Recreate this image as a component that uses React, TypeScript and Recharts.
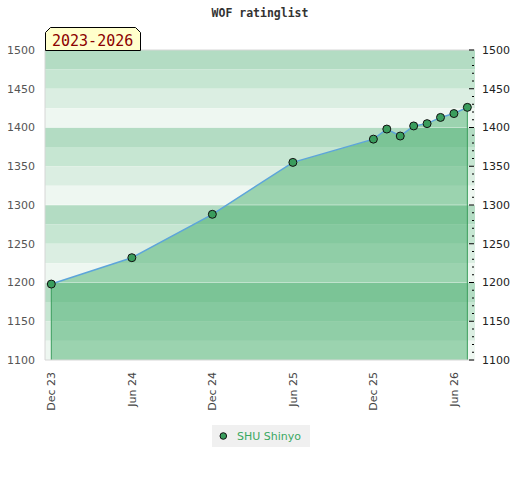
import React from 'react';
import { ComposedChart, Area, Line, XAxis, YAxis, ReferenceArea, ReferenceLine } from 'recharts';

const monthIndex = [0, 6, 12, 18, 24, 25, 26, 27, 28, 29, 30, 31];
const ratings = [1198, 1232, 1288, 1355, 1385, 1398, 1389, 1402, 1405, 1413, 1418, 1426];
const xTickValues = [0, 6, 12, 18, 24, 30];
const xTickLabels = ['Dec 23', 'Jun 24', 'Dec 24', 'Jun 25', 'Dec 25', 'Jun 26'];
const leftTicks = [1100, 1150, 1200, 1250, 1300, 1350, 1400, 1450, 1500];
const yMin = 1100;
const yMax = 1500;
const seriesName = 'SHU Shinyo';
const titleText = 'WOF ratinglist';
const badgeText = '2023-2026';

const bandColors = ['#b3dcc3', '#c6e6d2', '#dbeee2', '#eef7f1'];
const bands: { y1: number; y2: number; fill: string }[] = [];
for (let i = 0; i < 16; i++) {
  const top = yMax - i * 25;
  bands.push({ y1: top - 25, y2: top, fill: bandColors[i % 4] });
}
const rightTicks: number[] = [];
for (let v = yMin; v <= yMax; v += 10) rightTicks.push(v);

const data = monthIndex.map((m, i) => ({ m, r: ratings[i] }));

const XTick = (props: any) => {
  const { x, y, payload } = props;
  const idx = xTickValues.indexOf(payload.value);
  const ty = y + 12;
  return (
    <text x={x} y={ty} transform={`rotate(-90, ${x}, ${ty})`} textAnchor="end" dy="0.36em"
      fill="#444" fontSize={11} fontFamily="DejaVu Sans">
      {idx >= 0 ? xTickLabels[idx] : ''}
    </text>
  );
};

const LeftTick = (props: any) => {
  const { x, y, payload } = props;
  return (
    <text x={x - 10} y={y} textAnchor="end" dy="0.36em" fill="#555" fontSize={11} fontFamily="DejaVu Sans">
      {payload.value}
    </text>
  );
};

const RightTick = (props: any) => {
  const { x, y, payload } = props;
  const v = payload.value;
  const major = v % 50 === 0;
  return (
    <g>
      <line x1={x - (major ? 6 : 3)} x2={x - 1} y1={y} y2={y} stroke="#000" strokeWidth={1} />
      {major ? (
        <text x={x + 7} y={y} textAnchor="start" dy="0.36em" fill="#222" fontSize={11} fontFamily="DejaVu Sans">
          {v}
        </text>
      ) : null}
    </g>
  );
};

export default function App() {
  return (
    <div style={{ position: 'absolute', left: 0, top: 0, width: 520, height: 480, background: '#fff' }}>
      <ComposedChart width={520} height={480} data={data} margin={{ top: 50, right: 0, left: 0, bottom: 0 }}>
        <XAxis type="number" dataKey="m" domain={[-0.47, 31.57]} ticks={xTickValues} interval={0}
          tick={<XTick />} tickLine={false} tickSize={0} tickMargin={0} height={120}
          axisLine={{ stroke: '#d6d6d6' }} allowDataOverflow />
        <YAxis yAxisId="left" domain={[yMin, yMax]} ticks={leftTicks} interval={0} width={45}
          tick={<LeftTick />} tickLine={false} tickSize={0} tickMargin={0}
          axisLine={{ stroke: '#d6d6d6' }} allowDataOverflow />
        <YAxis yAxisId="right" orientation="right" domain={[yMin, yMax]} ticks={rightTicks} interval={0} width={45}
          tick={<RightTick />} tickLine={false} tickSize={0} tickMargin={0} axisLine={false} allowDataOverflow />
        {bands.map((b, i) => (
          <ReferenceArea key={i} yAxisId="left" y1={b.y1} y2={b.y2} fill={b.fill} fillOpacity={1} stroke="none" />
        ))}
        {[1200, 1300, 1400].map((v) => (
          <ReferenceLine key={v} yAxisId="left" y={v} stroke="#ffffff" strokeOpacity={0.45} />
        ))}
        <ReferenceLine yAxisId="left" y={yMax} stroke="#d6d6d6" />
        <Area yAxisId="left" type="linear" dataKey="r" baseValue={yMin} fill="#39a861" fillOpacity={0.46}
          stroke="none" isAnimationActive={false} activeDot={false} />
        <ReferenceLine yAxisId="left" segment={[{ x: monthIndex[0], y: yMin }, { x: monthIndex[0], y: ratings[0] }]}
          stroke="#3a9d5d" />
        <ReferenceLine yAxisId="left"
          segment={[{ x: monthIndex[monthIndex.length - 1], y: yMin }, { x: monthIndex[monthIndex.length - 1], y: ratings[ratings.length - 1] }]}
          stroke="#3a9d5d" />
        <Line yAxisId="left" type="linear" dataKey="r" stroke="#5da5da" strokeWidth={1.5}
          dot={{ r: 4, fill: '#3a9d5d', stroke: '#111', strokeWidth: 1 }} activeDot={false} isAnimationActive={false} />
      </ComposedChart>
      <svg width={520} height={480} style={{ position: 'absolute', left: 0, top: 0, pointerEvents: 'none' }}>
        <text x={260} y={16.5} textAnchor="middle" fontFamily="DejaVu Sans Mono" fontWeight="bold" fontSize={11.5} fill="#333">
          {titleText}
        </text>
        <path d="M45.5,50.5 L45.5,32.5 L50.5,27.5 L135.5,27.5 L140.5,32.5 L140.5,50.5 Z" fill="#ffffcc" stroke="#000" strokeWidth={1} />
        <text x={52} y={45.7} fontFamily="DejaVu Sans Mono" fontSize={15} fill="#8b0000">
          {badgeText}
        </text>
      </svg>
      <div style={{ position: 'absolute', left: 212, top: 425, width: 98, height: 22, background: '#f0f0f0',
        display: 'flex', alignItems: 'center', fontFamily: 'DejaVu Sans', fontSize: 11 }}>
        <svg width={14} height={22} style={{ marginLeft: 6 }}>
          <circle cx={5.3} cy={11} r={3.3} fill="#3a9d5d" stroke="#111" strokeWidth={1} />
        </svg>
        <span style={{ color: '#3aa862', marginLeft: 5 }}>{seriesName}</span>
      </div>
    </div>
  );
}
